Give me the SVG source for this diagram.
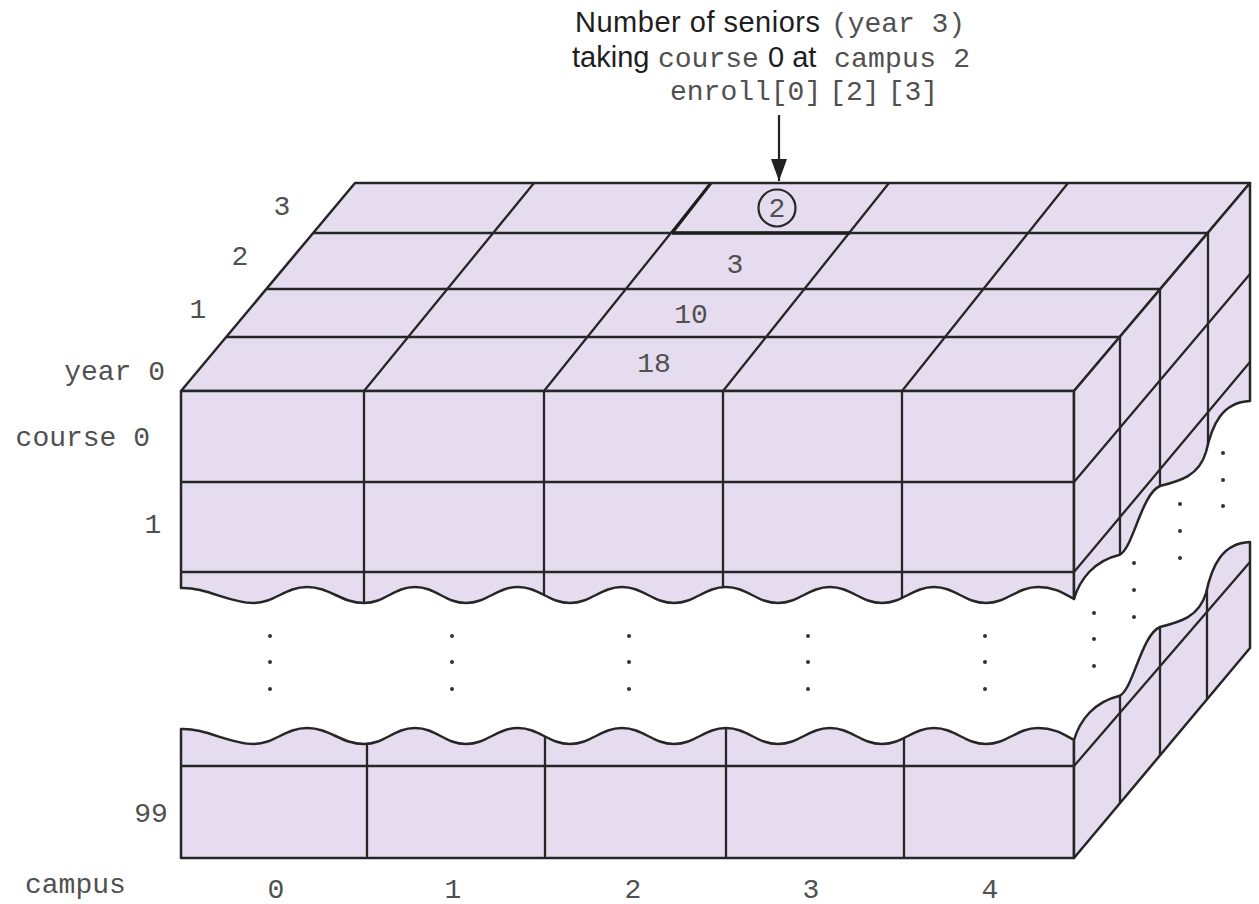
<svg xmlns="http://www.w3.org/2000/svg" width="1259" height="904" viewBox="0 0 1259 904">
<style>
.fill{fill:#E6DCEF;stroke:none}
.edge{fill:none;stroke:#262626;stroke-width:2.5;stroke-linejoin:round}
.ln{fill:none;stroke:#262626;stroke-width:2.3}
.bold{fill:none;stroke:#1e1e1e;stroke-width:3.6}
.dot{fill:#333}
.sans{font-family:"Liberation Sans",Arial,sans-serif;font-size:29px;fill:#1e1e1e}
.mono{font-family:"Liberation Mono","Courier New",monospace;font-size:28px;fill:#505050}
</style>
<defs>
<marker id="ah" viewBox="0 0 22 16" refX="22" refY="8" markerWidth="22" markerHeight="16" markerUnits="userSpaceOnUse" orient="auto">
<path d="M0,0 L22,8 L0,16 Z" fill="#222"/>
</marker>
<path id="pTop" d="M181,391 L355,183 L1250,183 L1074,391 Z"/>
<path id="pFrontUp" d="M181,391 L181,588 C205,587 230,603 253,603 C275,603 285,587 307,587 C330,587 341,603 364,603 C385,603 394,587 415,587 C436,587 445,603 466,603 C487,603 497,587 518,587 C539,587 549,603 570,603 C591,603 601,587 622,587 C643,587 653,603 674,603 C695,603 705,587 726,587 C747,587 757,603 778,603 C799,603 809,587 830,587 C851,587 861,603 882,603 C903,603 913,587 934,587 C955,587 965,603 986,603 C1007,603 1017,587 1038,587 C1056,587 1066,595 1074,599 L1074,391 Z"/>
<path id="pFrontLow" d="M181,858 L181,729 C205,728 230,744 253,744 C275,744 285,728 307,728 C330,728 341,744 364,744 C385,744 394,728 415,728 C436,728 445,744 466,744 C487,744 497,728 518,728 C539,728 549,744 570,744 C591,744 601,728 622,728 C643,728 653,744 674,744 C695,744 705,728 726,728 C747,728 757,744 778,744 C799,744 809,728 830,728 C851,728 861,744 882,744 C903,744 913,728 934,728 C955,728 965,744 986,744 C1007,744 1017,728 1038,728 C1056,728 1066,736 1074,740 L1074,858 Z"/>
<path id="pSideUp" d="M1074,391 L1074,599 C1080,579 1094,561 1119,555 C1133,550 1141,494 1160,486 C1180,481 1199,476 1206,452 C1212,425 1222,402 1250,401 L1250,183 Z"/>
<path id="pSideLow" d="M1074,858 L1074,740 C1080,720 1094,702 1119,696 C1133,691 1141,635 1160,627 C1180,622 1199,617 1206,593 C1212,566 1222,543 1250,542 L1250,648 Z"/>
<clipPath id="cTop"><use href="#pTop"/></clipPath>
<clipPath id="cFrontUp"><use href="#pFrontUp"/></clipPath>
<clipPath id="cFrontLow"><use href="#pFrontLow"/></clipPath>
<clipPath id="cSideUp"><use href="#pSideUp"/></clipPath>
<clipPath id="cSideLow"><use href="#pSideLow"/></clipPath>
</defs>

<g id="top-face">
<use href="#pTop" class="fill"/>
<g clip-path="url(#cTop)" class="ln">
<path d="M190,337 H1140 M230,289 H1180 M280,233 H1230"/>
<path d="M364,391 L534,183 M544,391 L711,183 M723,391 L889,183 M902,391 L1068,183"/>
</g>
<path class="bold" d="M672,233 H850"/>
<path d="M672,233 L711,183" fill="none" stroke="#1e1e1e" stroke-width="3"/>
<use href="#pTop" class="edge"/>
</g>

<g id="front-upper">
<use href="#pFrontUp" class="fill"/>
<g clip-path="url(#cFrontUp)" class="ln">
<path d="M181,482 H1074 M181,572 H1074"/>
<path d="M364,391 V620 M544,391 V620 M723,391 V620 M902,391 V620"/>
</g>
<use href="#pFrontUp" class="edge"/>
</g>

<g id="side-upper">
<use href="#pSideUp" class="fill"/>
<g clip-path="url(#cSideUp)" class="ln">
<path d="M1074,482 L1250,274 M1074,572 L1250,362"/>
<path d="M1120,183 V640 M1160,183 V640 M1208,183 V640"/>
</g>
<use href="#pSideUp" class="edge"/>
</g>

<g id="front-lower">
<use href="#pFrontLow" class="fill"/>
<g clip-path="url(#cFrontLow)" class="ln">
<path d="M181,766 H1074"/>
<path d="M367,715 V858 M545,715 V858 M726,715 V858 M904,715 V858"/>
</g>
<use href="#pFrontLow" class="edge"/>
</g>

<g id="side-lower">
<use href="#pSideLow" class="fill"/>
<g clip-path="url(#cSideLow)" class="ln">
<path d="M1074,766 L1250,562"/>
<path d="M1120,530 V870 M1160,530 V870 M1207,530 V870"/>
</g>
<use href="#pSideLow" class="edge"/>
</g>

<g id="ellipsis-dots" class="dot">
<circle cx="270" cy="636" r="2"/><circle cx="270" cy="662" r="2"/><circle cx="270" cy="689" r="2"/>
<circle cx="452" cy="636" r="2"/><circle cx="452" cy="662" r="2"/><circle cx="452" cy="689" r="2"/>
<circle cx="629" cy="636" r="2"/><circle cx="629" cy="662" r="2"/><circle cx="629" cy="689" r="2"/>
<circle cx="808" cy="636" r="2"/><circle cx="808" cy="662" r="2"/><circle cx="808" cy="689" r="2"/>
<circle cx="985" cy="636" r="2"/><circle cx="985" cy="662" r="2"/><circle cx="985" cy="689" r="2"/>
<circle cx="1094" cy="613" r="2"/><circle cx="1094" cy="639" r="2"/><circle cx="1094" cy="666" r="2"/>
<circle cx="1134" cy="563" r="2"/><circle cx="1134" cy="590" r="2"/><circle cx="1134" cy="617" r="2"/>
<circle cx="1180" cy="504" r="2"/><circle cx="1180" cy="531" r="2"/><circle cx="1180" cy="558" r="2"/>
<circle cx="1223" cy="453" r="2"/><circle cx="1223" cy="480" r="2"/><circle cx="1223" cy="506" r="2"/>
</g>

<g id="cell-values">
<circle cx="777" cy="208" r="18.5" fill="none" stroke="#262626" stroke-width="2.2"/>
<text class="mono" x="777" y="217" text-anchor="middle">2</text>
<text class="mono" x="735" y="273" text-anchor="middle">3</text>
<text class="mono" x="691" y="323" text-anchor="middle">10</text>
<text class="mono" x="654" y="372" text-anchor="middle">18</text>
</g>

<g id="axis-labels">
<text class="mono" x="282" y="215" text-anchor="middle">3</text>
<text class="mono" x="240" y="265" text-anchor="middle">2</text>
<text class="mono" x="198" y="318" text-anchor="middle">1</text>
<text class="mono" x="165" y="380" text-anchor="end">year 0</text>
<text class="mono" x="150" y="446" text-anchor="end">course 0</text>
<text class="mono" x="153" y="533" text-anchor="middle">1</text>
<text class="mono" x="151" y="822" text-anchor="middle">99</text>
<text class="mono" x="25" y="893">campus</text>
<text class="mono" x="276" y="898" text-anchor="middle">0</text>
<text class="mono" x="453" y="898" text-anchor="middle">1</text>
<text class="mono" x="633" y="898" text-anchor="middle">2</text>
<text class="mono" x="811" y="898" text-anchor="middle">3</text>
<text class="mono" x="990" y="898" text-anchor="middle">4</text>
</g>

<g id="annotation">
<text class="sans" x="575" y="32" textLength="245">Number of seniors</text>
<text class="mono" x="831" y="32" textLength="134">(year 3)</text>
<text class="sans" x="572" y="67">taking</text>
<text class="mono" x="658" y="67">course</text>
<text class="sans" x="768" y="67">0 at</text>
<text class="mono" x="834" y="67" textLength="136">campus 2</text>
<text class="mono" x="670" y="100">enroll[0]<tspan dx="8">[2]</tspan><tspan dx="8">[3]</tspan></text>
</g>

<g id="connectors">
<path d="M779,115 V181" fill="none" stroke="#222" stroke-width="2.2" marker-end="url(#ah)"/>
</g>
</svg>
